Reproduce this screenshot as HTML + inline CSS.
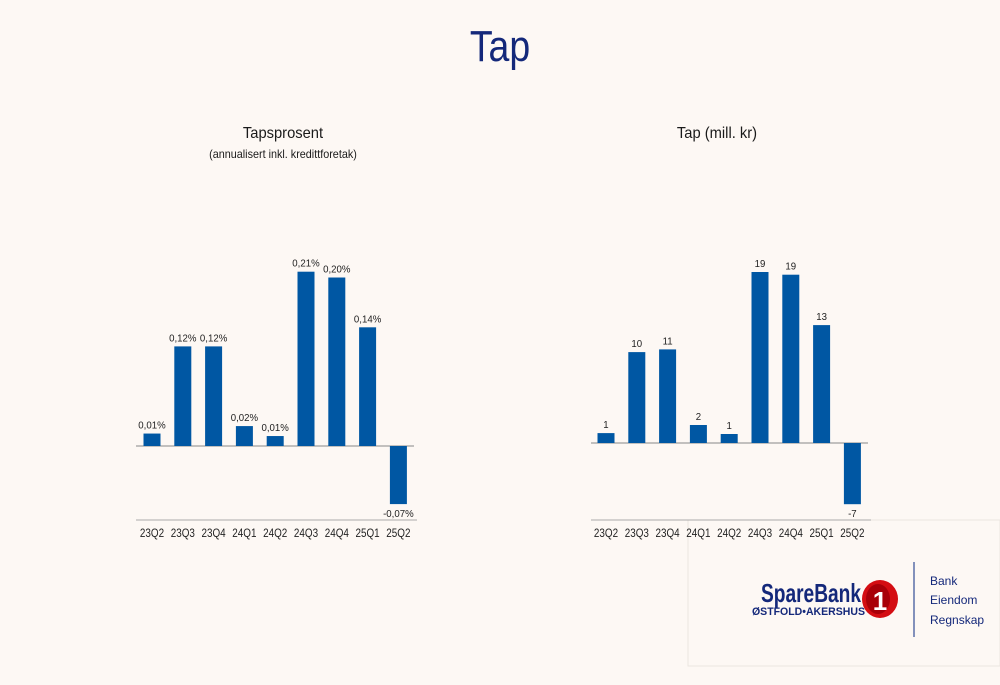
<!DOCTYPE html>
<html><head><meta charset="utf-8"><style>
html,body{margin:0;padding:0;background:#fdf8f4;}
body{width:1000px;height:685px;position:relative;overflow:hidden;font-family:"Liberation Sans",sans-serif;}
.t{position:absolute;text-align:center;color:#1a1a1a;}
</style></head><body>
<div class="t" style="left:0;width:1000px;top:22px;font-size:44px;color:#14287a;transform:scaleX(0.85);">Tap</div>
<div class="t" style="left:133px;width:300px;top:125px;font-size:16px;transform:scaleX(0.92);">Tapsprosent</div>
<div class="t" style="left:133px;width:300px;top:147px;font-size:12px;transform:scaleX(0.9);">(annualisert inkl. kredittforetak)</div>
<div class="t" style="left:567px;width:300px;top:125px;font-size:16px;transform:scaleX(0.92);">Tap (mill. kr)</div>
<svg id="c" width="1000" height="685" style="position:absolute;left:0;top:0">
<rect x="688" y="520" width="312" height="146" fill="none" stroke="#ece6e0"/>
<g>
<text x="761" y="602" font-size="26" font-weight="bold" fill="#14287a" font-family="Liberation Sans,sans-serif" textLength="100" lengthAdjust="spacingAndGlyphs">SpareBank</text>
<text x="752" y="615" font-size="11" font-weight="bold" fill="#14287a" font-family="Liberation Sans,sans-serif" textLength="113" lengthAdjust="spacingAndGlyphs">ØSTFOLD•AKERSHUS</text>
<ellipse cx="880" cy="599" rx="18" ry="19" fill="#d40d12"/>
<ellipse cx="878" cy="599" rx="12" ry="15" fill="#a80008"/>
<text x="880" y="610" font-size="26" font-weight="bold" fill="#fff" text-anchor="middle" font-family="Liberation Sans,sans-serif">1</text>
<line x1="914" y1="562" x2="914" y2="637" stroke="#5a6fa8" stroke-width="1.5"/>
<text x="930" y="585" font-size="12" fill="#14287a" font-family="Liberation Sans,sans-serif">Bank</text>
<text x="930" y="604" font-size="12" fill="#14287a" font-family="Liberation Sans,sans-serif">Eiendom</text>
<text x="930" y="624" font-size="12" fill="#14287a" font-family="Liberation Sans,sans-serif">Regnskap</text>
</g>
</svg>
<script>
const categories=["23Q2","23Q3","23Q4","24Q1","24Q2","24Q3","24Q4","25Q1","25Q2"];
const pctValues=[0.015,0.12,0.12,0.024,0.012,0.21,0.203,0.143,-0.07];
const pctLabels=["0,01%","0,12%","0,12%","0,02%","0,01%","0,21%","0,20%","0,14%","-0,07%"];
const lossValues=[1.1,10.1,10.4,2,1,19,18.7,13.1,-6.8];
const lossLabels=["1","10","11","2","1","19","19","13","-7"];
const svg=document.getElementById('c');
const NS='http://www.w3.org/2000/svg';
function mk(tag,attrs,txt){const e=document.createElementNS(NS,tag);for(const k in attrs)e.setAttribute(k,attrs[k]);if(txt!==undefined)e.textContent=txt;svg.appendChild(e);return e;}
function chart(prefix,x0,step,base,scale,vals,labels,lx1,lx2){
  const y=v=>base-v*scale;
  const x=i=>x0+i*step;
  let l=mk('line',{x1:lx1,x2:lx2,y1:base,y2:base,stroke:'#888','stroke-width':1});
  
  
  l=mk('line',{x1:lx1,x2:lx2+3,y1:520,y2:520,stroke:'#aaa','stroke-width':1});
  
  
  vals.forEach((v,i)=>{
    const top=Math.min(y(v),base),h=Math.abs(y(v)-base);
    const r=mk('rect',{x:x(i)-8.5,y:top,width:17,height:h,fill:'#0057a3'});
    
    
    const ly=v>=0?y(v)-5:y(v)+13;
    const t=mk('text',{x:x(i),y:ly,'font-size':10.5,'text-anchor':'middle',fill:'#222','font-family':'Liberation Sans,sans-serif',transform:'translate('+x(i)+' 0) scale(0.92 1) translate('+(-x(i))+' 0)'},labels[i]);
    
    
    const c=mk('text',{x:x(i),y:537,'font-size':11.5,'text-anchor':'middle',fill:'#222','font-family':'Liberation Sans,sans-serif',transform:'translate('+x(i)+' 0) scale(0.86 1) translate('+(-x(i))+' 0)'},categories[i]);
    
    
  });
}
chart('pct',152,30.8,446,830,pctValues,pctLabels,136,414);
chart('loss',606,30.8,443,9.0,lossValues,lossLabels,591,868);
</script>
</body></html>
